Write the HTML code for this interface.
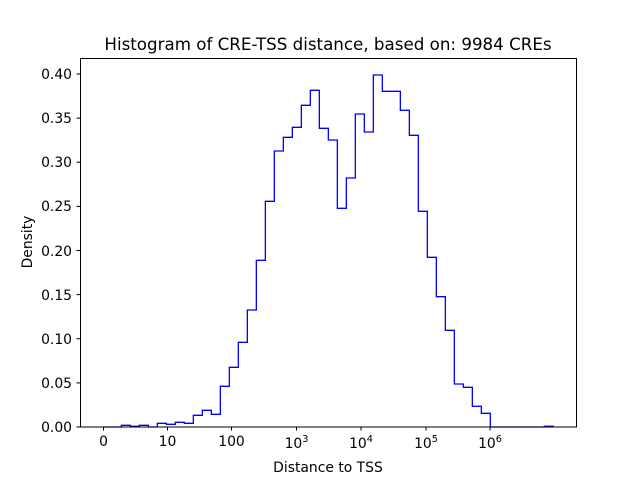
<!DOCTYPE html>
<html><head><style>body{margin:0;background:#fff}svg{display:block;font-family:"DejaVu Sans","Liberation Sans",sans-serif}</style></head><body>
<svg width="640" height="480" viewBox="0 0 640 480">
<rect width="640" height="480" fill="#fff"/>
<text x="328" y="50" font-size="16.7" text-anchor="middle">Histogram of CRE-TSS distance, based on: 9984 CREs</text>
<g transform="translate(80,50) scale(0.3333333)">
<polyline fill="none" stroke="#0000ff" stroke-width="1.3" vector-effect="non-scaling-stroke" stroke-linejoin="miter" points="
70,1131 124,1131 124,1126 151,1126 151,1129 178,1129 178,1126 205,1126 205,1131 232,1131 232,1120 259,1120 259,1123 286,1123 286,1117 313,1117 313,1120 340,1120 340,1096 367,1096 367,1081 394,1081 394,1093 421,1093 421,1009 448,1009 448,952 475,952 475,877 502,877 502,780 529,780 529,631 556,631 556,454 583,454 583,303 610,303 610,262 637,262 637,232 664,232 664,166 691,166 691,121 718,121 718,235 745,235 745,270 772,270 772,475 799,475 799,384 826,384 826,192 853,192 853,246 880,246 880,75 907,75 907,124 934,124 961,124 961,181 988,181 988,256 1015,256 1015,484 1042,484 1042,622 1069,622 1069,740 1096,740 1096,841 1123,841 1123,1002 1150,1002 1150,1012 1177,1012 1177,1069 1204,1069 1204,1090 1231,1090 1231,1131 1393,1131 1393,1129 1420,1129 1420,1131"/>
</g>
<rect x="80.5" y="58.5" width="496" height="368.5" fill="none" stroke="#000" stroke-width="1"/>
<g stroke="#000" stroke-width="1">
<line x1="80" y1="427" x2="76.5" y2="427"/><line x1="80" y1="382.9" x2="76.5" y2="382.9"/><line x1="80" y1="338.7" x2="76.5" y2="338.7"/><line x1="80" y1="294.6" x2="76.5" y2="294.6"/><line x1="80" y1="250.5" x2="76.5" y2="250.5"/><line x1="80" y1="206.4" x2="76.5" y2="206.4"/><line x1="80" y1="162.2" x2="76.5" y2="162.2"/><line x1="80" y1="118.1" x2="76.5" y2="118.1"/><line x1="80" y1="74" x2="76.5" y2="74"/>
<line x1="103.5" y1="427" x2="103.5" y2="430.5"/><line x1="167.5" y1="427" x2="167.5" y2="430.5"/><line x1="231.5" y1="427" x2="231.5" y2="430.5"/><line x1="296.5" y1="427" x2="296.5" y2="430.5"/><line x1="361" y1="427" x2="361" y2="430.5"/><line x1="426" y1="427" x2="426" y2="430.5"/><line x1="490" y1="427" x2="490" y2="430.5"/>
</g>
<g font-size="13.9" text-anchor="end">
<text x="72" y="432">0.00</text><text x="72" y="388">0.05</text><text x="72" y="344">0.10</text><text x="72" y="300">0.15</text><text x="72" y="256">0.20</text><text x="72" y="211">0.25</text><text x="72" y="167">0.30</text><text x="72" y="123">0.35</text><text x="72" y="79">0.40</text>
</g>
<g font-size="13.9" text-anchor="middle">
<text x="103.5" y="446">0</text><text x="167.5" y="446">10</text><text x="231.5" y="446">100</text>
<text x="296.5" y="448">10<tspan font-size="9.7" dy="-6">3</tspan></text>
<text x="361" y="448">10<tspan font-size="9.7" dy="-6">4</tspan></text>
<text x="426" y="448">10<tspan font-size="9.7" dy="-6">5</tspan></text>
<text x="490" y="448">10<tspan font-size="9.7" dy="-6">6</tspan></text>
<text x="328" y="472">Distance to TSS</text>
<text transform="translate(32,242) rotate(-90)">Density</text>
</g>
</svg>
</body></html>
